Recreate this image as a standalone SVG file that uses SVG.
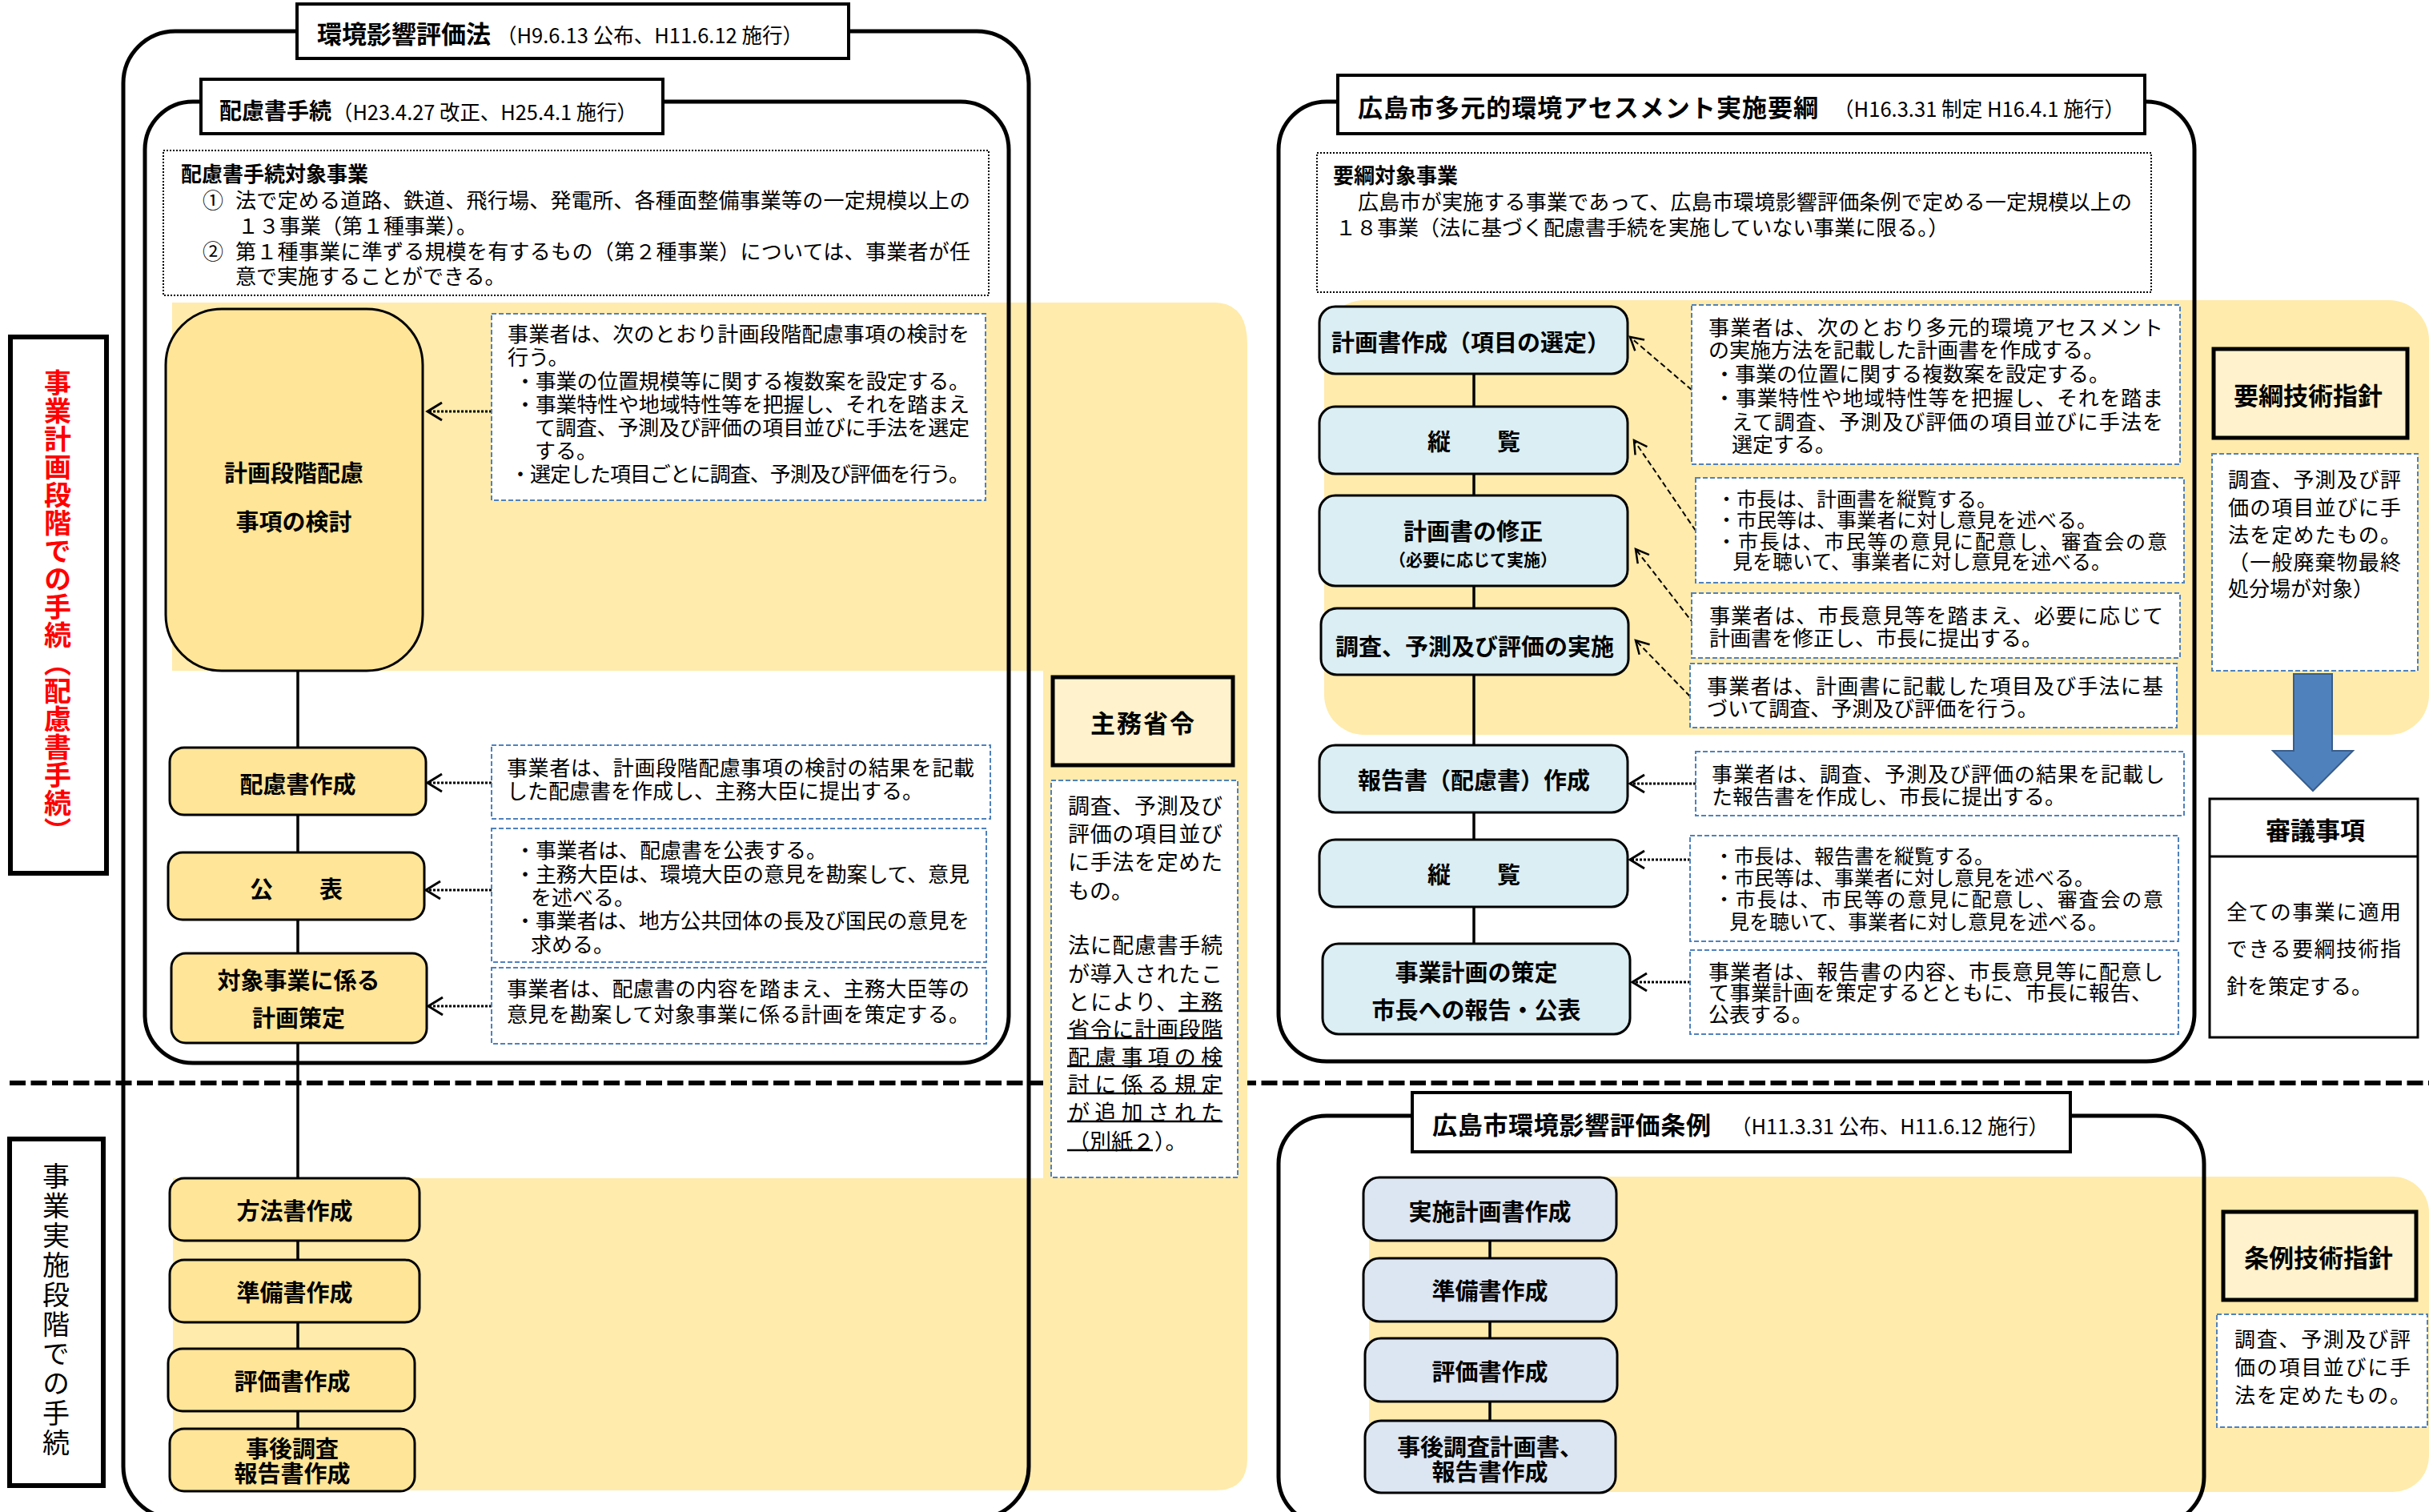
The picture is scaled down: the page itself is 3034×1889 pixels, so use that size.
<svg xmlns="http://www.w3.org/2000/svg" width="3034" height="1889" viewBox="0 0 3034 1889">
<defs>
<style>
text{font-family:"Noto Sans CJK JP","Noto Sans CJK SC",sans-serif;dominant-baseline:central;fill:#000}
.b{font-weight:700}
.n{font-size:29px;font-weight:700;text-anchor:middle}
.p{font-size:26px}
.q{font-size:25px}
.c{font-size:27px}
.h{font-size:31px;font-weight:700}
.s{font-size:26px}
.box{fill:#fff;stroke:#000;stroke-width:4}
.cont{fill:none;stroke:#000;stroke-width:5}
.yn{fill:#FFE597;stroke:#000;stroke-width:3}
.bn{fill:#DAEEF3;stroke:#000;stroke-width:3}
.gn{fill:#DCE6F2;stroke:#000;stroke-width:3}
.bd{fill:#fff;stroke:#4F81BD;stroke-width:2;stroke-dasharray:6 3}
.dot{fill:#fff;stroke:#000;stroke-width:2;stroke-dasharray:2 2}
.band{fill:#FFEBAB}
.guide{fill:#FFF2CC;stroke:#000;stroke-width:5}
.conn{stroke:#000;stroke-width:3.5;fill:none}
.arr{stroke:#000;stroke-width:3;stroke-dasharray:3 2;fill:none;marker-end:url(#chev)}
.darr{stroke:#000;stroke-width:2;stroke-dasharray:7 4;fill:none;marker-end:url(#chev2)}
.ul{stroke:#000;stroke-width:2.5}
</style>
<marker id="chev" viewBox="0 0 20 24" refX="19" refY="12" markerWidth="20" markerHeight="24" markerUnits="userSpaceOnUse" orient="auto" overflow="visible">
<path d="M1,1 L19,12 L1,23" fill="none" stroke="#000" stroke-width="3"/>
</marker>
<marker id="chev2" viewBox="0 0 18 20" refX="17" refY="10" markerWidth="18" markerHeight="20" markerUnits="userSpaceOnUse" orient="auto" overflow="visible">
<path d="M1,1 L17,10 L1,19" fill="none" stroke="#000" stroke-width="2.5"/>
</marker>
</defs>
<rect width="3034" height="1889" fill="#fff"/>

<!-- separator -->
<line x1="12" y1="1353" x2="3034" y2="1353" stroke="#000" stroke-width="6" stroke-dasharray="20 6.5"/>

<!-- background bands -->
<g id="bands">
<path class="band" d="M215,378 H1516 Q1558,378 1558,430 V1822 Q1558,1862 1518,1862 H216 V1472 H1303 V838 H215 Z"/>
<rect class="band" x="1654" y="375" width="1380" height="543" rx="50"/>
<rect class="band" x="1710" y="1470" width="1324" height="394" rx="45"/>
</g>

<!-- containers -->
<g id="containers">
<rect class="cont" x="154" y="39" width="1131" height="1858" rx="65"/>
<rect class="cont" x="181" y="127" width="1079" height="1201" rx="60"/>
<rect class="cont" x="1597" y="127" width="1144" height="1199" rx="60"/>
<rect class="cont" x="1597" y="1394" width="1156" height="511" rx="60"/>
</g>

<!-- connectors -->
<g id="connectors">
<line class="conn" x1="372" y1="838" x2="372" y2="1790"/>
<line class="conn" x1="1841" y1="467" x2="1841" y2="1180"/>
<line class="conn" x1="1861" y1="1550" x2="1861" y2="1776"/>
<path class="arr" d="M614,514 H534"/>
<path class="arr" d="M614,978 H534"/>
<path class="arr" d="M614,1112 H532"/>
<path class="arr" d="M614,1257 H535"/>
<path class="darr" d="M2113,487 L2036,421"/>
<path class="darr" d="M2118,663 L2041,550"/>
<path class="darr" d="M2116,780 L2043,686"/>
<path class="darr" d="M2111,870 L2043,800"/>
<path class="arr" d="M2118,979 H2036"/>
<path class="arr" d="M2111,1074 H2036"/>
<path class="arr" d="M2111,1227 H2039"/>
<path d="M2865,842 H2913 V938 H2939 L2889,988 L2839,938 H2865 Z" fill="#4F81BD" stroke="#385D8A" stroke-width="2"/>
</g>

<!-- left labels -->
<g id="label-plan">
<rect x="13" y="421" width="120" height="670" fill="#fff" stroke="#000" stroke-width="6"/>
<text x="72" y="461" writing-mode="vertical-rl" font-size="34" font-weight="700" letter-spacing="1" style="fill:#FF0000">事業計画段階での手続（配慮書手続）</text>
</g>
<g id="label-impl">
<rect x="12" y="1423" width="117" height="433" fill="#fff" stroke="#000" stroke-width="6"/>
<text x="70" y="1452" writing-mode="vertical-rl" font-size="34" letter-spacing="3">事業実施段階での手続</text>
</g>

<!-- titles -->
<g id="title-law">
<rect class="box" x="371" y="5" width="689" height="68"/>
<text class="h" x="396" y="40">環境影響評価法</text>
<text class="s" x="620" y="42" textLength="383" lengthAdjust="spacingAndGlyphs">（H9.6.13 公布、H11.6.12 施行）</text>
</g>
<g id="title-hairyo">
<rect class="box" x="251" y="99" width="577" height="68"/>
<text class="b" font-size="28" x="274" y="137">配慮書手続</text>
<text class="s" x="415" y="138" textLength="381" lengthAdjust="spacingAndGlyphs">（H23.4.27 改正、H25.4.1 施行）</text>
</g>
<g id="title-youkou">
<rect class="box" x="1671" y="94" width="1008" height="73"/>
<text class="h" x="1696" y="132" textLength="575">広島市多元的環境アセスメント実施要綱</text>
<text class="s" x="2290" y="134" textLength="364" lengthAdjust="spacingAndGlyphs">（H16.3.31 制定 H16.4.1 施行）</text>
</g>
<g id="title-jourei">
<rect class="box" x="1764" y="1365" width="822" height="74"/>
<text class="h" x="1789" y="1403" textLength="348">広島市環境影響評価条例</text>
<text class="s" x="2162" y="1405" textLength="397" lengthAdjust="spacingAndGlyphs">（H11.3.31 公布、H11.6.12 施行）</text>
</g>

<!-- target boxes -->
<g id="target-law">
<rect class="dot" x="204" y="188" width="1031" height="181"/>
<text class="p b" x="226" y="215">配慮書手続対象事業</text>
<text class="p" x="253" y="248">①</text>
<text class="p" x="294" y="248" textLength="918">法で定める道路、鉄道、飛行場、発電所、各種面整備事業等の一定規模以上の</text>
<text class="p" x="297" y="280">１３事業（第１種事業）。</text>
<text class="p" x="253" y="312">②</text>
<text class="p" x="294" y="312" textLength="918">第１種事業に準ずる規模を有するもの（第２種事業）については、事業者が任</text>
<text class="p" x="294" y="343">意で実施することができる。</text>
</g>
<g id="target-youkou">
<rect class="dot" x="1645" y="191" width="1042" height="174"/>
<text class="p b" x="1665" y="217">要綱対象事業</text>
<text class="p" x="1696" y="250" textLength="967">広島市が実施する事業であって、広島市環境影響評価条例で定める一定規模以上の</text>
<text class="p" x="1668" y="282">１８事業（法に基づく配慮書手続を実施していない事業に限る。）</text>
</g>

<!-- left nodes -->
<g id="n-kentou">
<rect class="yn" x="207" y="386" width="321" height="452" rx="70"/>
<text class="n" x="367" y="589">計画段階配慮</text>
<text class="n" x="367" y="650">事項の検討</text>
</g>
<g id="n-hairyosho">
<rect class="yn" x="212" y="934" width="320" height="84" rx="18"/>
<text class="n" x="372" y="978">配慮書作成</text>
</g>
<g id="n-kouhyou">
<rect class="yn" x="210" y="1065" width="320" height="84" rx="18"/>
<text class="n" x="370" y="1109">公　　表</text>
</g>
<g id="n-keikaku">
<rect class="yn" x="214" y="1191" width="319" height="112" rx="18"/>
<text class="n" x="373" y="1223">対象事業に係る</text>
<text class="n" x="373" y="1270">計画策定</text>
</g>
<g id="n-houhou">
<rect class="yn" x="212" y="1472" width="312" height="78" rx="18"/>
<text class="n" x="368" y="1511">方法書作成</text>
</g>
<g id="n-junbi">
<rect class="yn" x="212" y="1574" width="312" height="78" rx="18"/>
<text class="n" x="368" y="1613">準備書作成</text>
</g>
<g id="n-hyouka">
<rect class="yn" x="210" y="1685" width="308" height="78" rx="18"/>
<text class="n" x="365" y="1724">評価書作成</text>
</g>
<g id="n-jigo">
<rect class="yn" x="212" y="1785" width="306" height="78" rx="18"/>
<text class="n" x="365" y="1808">事後調査</text>
<text class="n" x="365" y="1839">報告書作成</text>
</g>

<!-- left notes -->
<g id="note-kentou">
<rect class="bd" x="614" y="392" width="617" height="233"/>
<text class="p" x="634" y="415" textLength="577">事業者は、次のとおり計画段階配慮事項の検討を</text>
<text class="p" x="634" y="444">行う。</text>
<text class="p" x="643" y="474" textLength="568">・事業の位置規模等に関する複数案を設定する。</text>
<text class="p" x="643" y="503" textLength="568">・事業特性や地域特性等を把握し、それを踏まえ</text>
<text class="p" x="668" y="532" textLength="543">て調査、予測及び評価の項目並びに手法を選定</text>
<text class="p" x="668" y="561">する。</text>
<text class="p" x="637" y="590" textLength="574">・選定した項目ごとに調査、予測及び評価を行う。</text>
</g>
<g id="note-hairyosho">
<rect class="bd" x="614" y="931" width="623" height="92"/>
<text class="p" x="633" y="957" textLength="584">事業者は、計画段階配慮事項の検討の結果を記載</text>
<text class="p" x="633" y="986">した配慮書を作成し、主務大臣に提出する。</text>
</g>
<g id="note-kouhyou">
<rect class="bd" x="614" y="1035" width="618" height="167"/>
<text class="p" x="643" y="1060">・事業者は、配慮書を公表する。</text>
<text class="p" x="643" y="1090" textLength="568">・主務大臣は、環境大臣の意見を勘案して、意見</text>
<text class="p" x="663" y="1119">を述べる。</text>
<text class="p" x="643" y="1148" textLength="568">・事業者は、地方公共団体の長及び国民の意見を</text>
<text class="p" x="663" y="1178">求める。</text>
</g>
<g id="note-keikaku">
<rect class="bd" x="614" y="1209" width="618" height="95"/>
<text class="p" x="633" y="1233" textLength="578">事業者は、配慮書の内容を踏まえ、主務大臣等の</text>
<text class="p" x="633" y="1265" textLength="578">意見を勘案して対象事業に係る計画を策定する。</text>
</g>

<!-- shumu shourei -->
<g id="shumu">
<rect class="guide" x="1315" y="846" width="225" height="110"/>
<text class="h" x="1428" y="901" text-anchor="middle" letter-spacing="2">主務省令</text>
<rect class="bd" x="1313" y="975" width="233" height="496"/>
<text class="c" x="1334" y="1005" textLength="193">調査、予測及び</text>
<text class="c" x="1334" y="1040" textLength="193">評価の項目並び</text>
<text class="c" x="1334" y="1075" textLength="193">に手法を定めた</text>
<text class="c" x="1334" y="1111">もの。</text>
<text class="c" x="1334" y="1179" textLength="193">法に配慮書手続</text>
<text class="c" x="1334" y="1215" textLength="193">が導入されたこ</text>
<text class="c" x="1334" y="1250" textLength="193">とにより、主務</text>
<text class="c" x="1334" y="1284" textLength="193">省令に計画段階</text>
<text class="c" x="1334" y="1319" textLength="193">配慮事項の検</text>
<text class="c" x="1334" y="1353" textLength="193">討に係る規定</text>
<text class="c" x="1334" y="1388" textLength="193">が追加された</text>
<text class="c" x="1334" y="1424">（別紙２）。</text>
<line class="ul" x1="1472" y1="1263" x2="1527" y2="1263"/>
<line class="ul" x1="1333" y1="1297" x2="1527" y2="1297"/>
<line class="ul" x1="1333" y1="1332" x2="1527" y2="1332"/>
<line class="ul" x1="1333" y1="1366" x2="1527" y2="1366"/>
<line class="ul" x1="1333" y1="1401" x2="1527" y2="1401"/>
<line class="ul" x1="1333" y1="1437" x2="1440" y2="1437"/>
</g>

<!-- right nodes -->
<g id="r-keikakusho">
<rect class="bn" x="1648" y="383" width="385" height="84" rx="20"/>
<text class="n" font-size="28" x="1837" y="426">計画書作成（項目の選定）</text>
</g>
<g id="r-juuran1">
<rect class="bn" x="1648" y="508" width="385" height="84" rx="20"/>
<text class="n" x="1841" y="550">縦　　覧</text>
</g>
<g id="r-shusei">
<rect class="bn" x="1648" y="619" width="385" height="113" rx="20"/>
<text class="n" x="1840" y="662">計画書の修正</text>
<text class="b" font-size="21" text-anchor="middle" x="1840" y="698">（必要に応じて実施）</text>
</g>
<g id="r-chousa">
<rect class="bn" x="1650" y="760" width="384" height="83" rx="20"/>
<text class="n" font-size="28" x="1842" y="806">調査、予測及び評価の実施</text>
</g>
<g id="r-houkokusho">
<rect class="bn" x="1648" y="931" width="385" height="84" rx="20"/>
<text class="n" x="1841" y="973">報告書（配慮書）作成</text>
</g>
<g id="r-juuran2">
<rect class="bn" x="1648" y="1049" width="385" height="84" rx="20"/>
<text class="n" x="1841" y="1091">縦　　覧</text>
</g>
<g id="r-sakutei">
<rect class="bn" x="1652" y="1179" width="384" height="113" rx="20"/>
<text class="n" x="1844" y="1213">事業計画の策定</text>
<text class="n" x="1844" y="1260">市長への報告・公表</text>
</g>

<!-- right notes -->
<g id="rnote-1">
<rect class="bd" x="2113" y="381" width="610" height="199"/>
<text class="p" x="2134" y="407" textLength="568">事業者は、次のとおり多元的環境アセスメント</text>
<text class="p" x="2134" y="435">の実施方法を記載した計画書を作成する。</text>
<text class="p" x="2141" y="465">・事業の位置に関する複数案を設定する。</text>
<text class="p" x="2141" y="495" textLength="561">・事業特性や地域特性等を把握し、それを踏ま</text>
<text class="p" x="2163" y="525" textLength="539">えて調査、予測及び評価の項目並びに手法を</text>
<text class="p" x="2163" y="553">選定する。</text>
</g>
<g id="rnote-2">
<rect class="bd" x="2118" y="597" width="610" height="131"/>
<text class="q" x="2144" y="622">・市長は、計画書を縦覧する。</text>
<text class="q" x="2144" y="648">・市民等は、事業者に対し意見を述べる。</text>
<text class="q" x="2144" y="675" textLength="563">・市長は、市民等の意見に配意し、審査会の意</text>
<text class="q" x="2164" y="700">見を聴いて、事業者に対し意見を述べる。</text>
</g>
<g id="rnote-3">
<rect class="bd" x="2113" y="741" width="610" height="81"/>
<text class="p" x="2135" y="767" textLength="567">事業者は、市長意見等を踏まえ、必要に応じて</text>
<text class="p" x="2135" y="795">計画書を修正し、市長に提出する。</text>
</g>
<g id="rnote-4">
<rect class="bd" x="2111" y="829" width="608" height="80"/>
<text class="p" x="2132" y="855" textLength="570">事業者は、計画書に記載した項目及び手法に基</text>
<text class="p" x="2132" y="883">づいて調査、予測及び評価を行う。</text>
</g>
<g id="rnote-5">
<rect class="bd" x="2118" y="939" width="610" height="80"/>
<text class="p" x="2138" y="965" textLength="566">事業者は、調査、予測及び評価の結果を記載し</text>
<text class="p" x="2138" y="993">た報告書を作成し、市長に提出する。</text>
</g>
<g id="rnote-6">
<rect class="bd" x="2111" y="1044" width="610" height="132"/>
<text class="q" x="2141" y="1068">・市長は、報告書を縦覧する。</text>
<text class="q" x="2141" y="1095">・市民等は、事業者に対し意見を述べる。</text>
<text class="q" x="2141" y="1122" textLength="561">・市長は、市民等の意見に配意し、審査会の意</text>
<text class="q" x="2160" y="1150">見を聴いて、事業者に対し意見を述べる。</text>
</g>
<g id="rnote-7">
<rect class="bd" x="2111" y="1187" width="610" height="105"/>
<text class="p" x="2134" y="1212" textLength="568">事業者は、報告書の内容、市長意見等に配意し</text>
<text class="p" x="2134" y="1238" textLength="554">て事業計画を策定するとともに、市長に報告、</text>
<text class="p" x="2134" y="1265">公表する。</text>
</g>

<!-- youkou guideline -->
<g id="youkou-guide">
<rect class="guide" x="2765" y="436" width="242" height="111"/>
<text class="h" x="2883" y="492" text-anchor="middle">要綱技術指針</text>
<rect class="bd" x="2763" y="567" width="257" height="271"/>
<text class="p" x="2783" y="597" textLength="216">調査、予測及び評</text>
<text class="p" x="2783" y="632" textLength="216">価の項目並びに手</text>
<text class="p" x="2783" y="666" textLength="216">法を定めたもの。</text>
<text class="p" x="2783" y="700" textLength="216">（一般廃棄物最終</text>
<text class="p" x="2783" y="733">処分場が対象）</text>
</g>
<g id="shingi">
<rect x="2760" y="998" width="260" height="298" fill="#fff" stroke="#000" stroke-width="3"/>
<line x1="2760" y1="1070" x2="3020" y2="1070" stroke="#000" stroke-width="3"/>
<text class="h" x="2892" y="1035" text-anchor="middle">審議事項</text>
<text class="p" x="2781" y="1137" textLength="218">全ての事業に適用</text>
<text class="p" x="2781" y="1183" textLength="218">できる要綱技術指</text>
<text class="p" x="2781" y="1230">針を策定する。</text>
</g>

<!-- bottom right nodes -->
<g id="b-jisshi">
<rect class="gn" x="1703" y="1471" width="316" height="79" rx="20"/>
<text class="n" x="1861" y="1512">実施計画書作成</text>
</g>
<g id="b-junbi">
<rect class="gn" x="1703" y="1572" width="316" height="79" rx="20"/>
<text class="n" x="1861" y="1611">準備書作成</text>
</g>
<g id="b-hyouka">
<rect class="gn" x="1705" y="1672" width="315" height="79" rx="20"/>
<text class="n" x="1861" y="1712">評価書作成</text>
</g>
<g id="b-jigo">
<rect class="gn" x="1705" y="1775" width="313" height="90" rx="20"/>
<text class="n" font-size="28" x="1861" y="1806">事後調査計画書、</text>
<text class="n" font-size="28" x="1861" y="1837">報告書作成</text>
</g>
<g id="jourei-guide">
<rect class="guide" x="2777" y="1514" width="241" height="110"/>
<text class="h" x="2896" y="1569" text-anchor="middle">条例技術指針</text>
<rect class="bd" x="2769" y="1642" width="263" height="141"/>
<text class="p" x="2791" y="1671" textLength="220">調査、予測及び評</text>
<text class="p" x="2791" y="1706" textLength="220">価の項目並びに手</text>
<text class="p" x="2791" y="1741" textLength="220">法を定めたもの。</text>
</g>
</svg>
